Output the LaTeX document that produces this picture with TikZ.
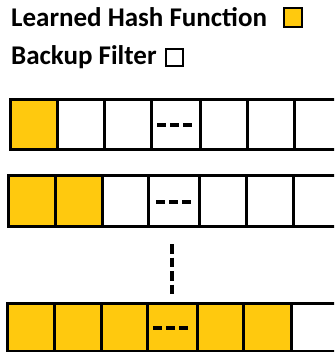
\documentclass[tikz,border=0pt]{standalone}
\usepackage{fontspec}
\setmainfont{Carlito}
\definecolor{hashyellow}{HTML}{FFC90E}
\begin{document}
\begin{tikzpicture}[x=1pt,y=-1pt,
  cellbox/.style={draw=black,line width=3pt},
  ellipsis/.style={line width=3.2pt,dash pattern=on 9pt off 4pt},
  legendbox/.style={draw=black,line width=1.6pt},
  legendtext/.style={font=\bfseries\fontsize{27}{32}\selectfont,anchor=base west,inner sep=0pt}]
\useasboundingbox (0,0) rectangle (334,352);
\clip (0,0) rectangle (334,352);

% legend
\node[legendtext] (lhf) at (11,27) {Learned Hash Function};
\node[legendtext] (bf) at (11,65) {Backup Filter};
\draw[legendbox,fill=hashyellow] (284,8) rectangle (302,27);
\draw[legendbox,fill=white] (166,49) rectangle (183,66);

% row 1: one learned cell
\fill[hashyellow] (10,100) rectangle (57,150);
\foreach \a/\b in {10/57,57/104,104/151,151/200,200/247,247/294,294/345}
  \draw[cellbox] (\a,100) rectangle (\b,150);
\draw[ellipsis] (157,125) -- (193,125);

% row 2: two learned cells
\fill[hashyellow] (8,176) rectangle (102,226);
\foreach \a/\b in {8/55,55/102,102/148,148/199,199/246,246/293,293/345}
  \draw[cellbox] (\a,176) rectangle (\b,226);
\draw[ellipsis] (156,202) -- (192,202);

% vertical ellipsis between rows
\draw[ellipsis,dash pattern=on 9.5pt off 4pt] (172,244) -- (172,294);

% last row: six learned cells
\fill[hashyellow] (7,303) rectangle (291,351);
\foreach \a/\b in {7/54,54/101,101/147,147/197,197/243,243/291,291/345}
  \draw[cellbox] (\a,303) rectangle (\b,351);
\draw[ellipsis] (153,328) -- (189,328);
\end{tikzpicture}
\end{document}
